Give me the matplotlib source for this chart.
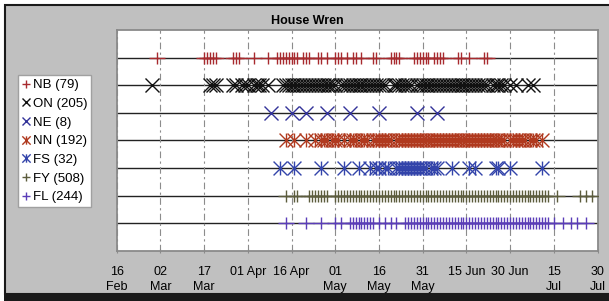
import matplotlib
matplotlib.use('Agg')
import matplotlib.pyplot as plt
from matplotlib.path import Path
from matplotlib.lines import Line2D
from matplotlib.patches import Rectangle

plt.rcParams['font.family'] = ['Liberation Sans', 'DejaVu Sans']

W, H = 609, 301

title = 'House Wren'
series_names = ['NB', 'ON', 'NE', 'NN', 'FS', 'FY', 'FL']
series_counts = [79, 205, 8, 192, 32, 508, 244]

# observation dates as days after 16 Feb (leap year)
nb_days = [14, 30, 31, 32, 33, 34, 40, 41, 42, 47, 52, 55, 56, 57, 58, 59, 60, 61, 62,
           64, 65, 66, 69, 70, 72, 75, 76, 77, 79, 81, 82, 84, 88, 89, 94, 95, 96, 97,
           102, 103, 104, 105, 106, 107, 109, 110, 111, 112, 117, 118, 121, 126, 127]
on_days = [12, 32, 33, 34, 40, 41, 43, 44, 45, 47, 48, 49, 50, 52,
           57, 58, 59, 60, 61, 62, 63, 64, 65, 66, 67, 68, 69, 70, 71, 72, 73, 74, 75,
           77, 78, 79, 80, 81, 82, 83, 84, 85, 86, 87, 88, 89, 90, 91, 92,
           95, 96, 97, 98, 99, 100, 101,
           103, 104, 105, 106, 107, 108, 109, 110, 111, 112, 113, 114, 115, 116, 117,
           118, 119, 120, 121, 122, 123, 124, 125, 126, 127,
           129, 130, 131, 132, 133, 135, 137, 141, 143]
ne_days = [53, 60, 65, 72, 80, 90, 103, 110]
nn_days = [58, 61, 65, 68, 70, 71, 72, 74, 75, 76, 78, 80, 81, 82, 84, 85, 86,
           88, 89, 90, 91, 92, 93, 94, 96, 97, 98, 99, 100, 101, 102, 103, 104, 105,
           106, 107, 108, 109, 110, 111, 112, 113, 114, 115, 116, 117, 118, 119, 120,
           121, 122, 123, 124, 125, 126, 127, 128, 129, 130, 131, 132, 133,
           135, 136, 137, 138, 139, 140, 142, 143, 144, 146]
fs_days = [56, 61, 70, 78, 83, 87, 89, 90, 92, 93, 96, 97, 98, 99, 100, 101, 102, 103,
           104, 105, 106, 108, 109, 110, 115, 121, 123, 130, 131, 135, 146]
fy_days = [58, 61, 62, 66, 67, 68, 69, 70, 71, 72,
           75, 76, 77, 78, 79, 80, 81, 82, 83, 84, 85, 86, 87, 88, 89, 90, 91, 92, 93,
           94, 95, 96, 97, 98, 99, 100, 101, 102, 103, 104, 105, 106, 107, 108, 109,
           110, 111, 112, 113, 114, 115, 116, 117, 118, 119, 120, 121, 122, 123, 124,
           125, 126, 127, 128, 129, 130, 131, 132, 133, 134, 135, 136, 137, 138, 139,
           140, 141, 142, 143, 144, 145, 146, 147, 148, 151, 159, 161, 163]
fl_days = [58, 65, 70, 75, 77, 80, 81, 82, 83, 84, 85, 86, 87, 88, 90, 92, 94, 96,
           99, 100, 101, 102, 103, 104, 105, 106, 107, 108, 109, 110, 111, 112, 113,
           114, 115, 116, 117, 118, 119, 120, 121, 122, 123, 124, 125, 126, 127, 128,
           129, 130, 131, 132, 133, 134, 135, 136, 137, 138, 139, 140, 141, 142, 143,
           144, 145, 146, 147, 148, 150, 153, 156, 158, 161]

tick_days = [0, 15, 30, 45, 60, 75, 90, 105, 120, 135, 150, 165]
tick_labels = ['16\nFeb', '02\nMar', '17\nMar', '01 Apr', '16 Apr', '01\nMay', '16\nMay',
               '31\nMay', '15 Jun', '30 Jun', '15\nJul', '30\nJul']

star = Path([(-1, -1), (1, 1), (-1, 1), (1, -1), (0, -1), (0, 1)],
            [Path.MOVETO, Path.LINETO, Path.MOVETO, Path.LINETO, Path.MOVETO, Path.LINETO])
wide_plus = Path([(-1.2, 0), (1.2, 0), (0, -1), (0, 1)],
                 [Path.MOVETO, Path.LINETO, Path.MOVETO, Path.LINETO])

series_days = [nb_days, on_days, ne_days, nn_days, fs_days, fy_days, fl_days]
colors = ['#a82a2e', '#111111', '#333399', '#b03a1f', '#3344aa', '#5c5c3d', '#5a3db8']
markers = [wide_plus, 'x', 'x', star, star, wide_plus, wide_plus]
sizes = [11, 10, 10.5, 10, 10, 11, 11]
legend_markers = ['+', 'x', 'x', star, star, '+', '+']

fig = plt.figure(figsize=(W / 100, H / 100), dpi=100, facecolor='white')
# gray chart area with dark frame
fig.patches.append(Rectangle((5 / W, 7 / H), 1.0, (H - 12) / H, transform=fig.transFigure,
                             facecolor='#c0c0c0', edgecolor='#1a1a1a', linewidth=1.5,
                             zorder=-10))
fig.patches.append(Rectangle((4 / W, 0), 1.0, 6 / H, transform=fig.transFigure,
                             facecolor='#1a1a1a', edgecolor='none', zorder=-10))

left, right, top, bottom = 116.7, 597.5, 30.0, 250.7
ax = fig.add_axes([left / W, 1 - bottom / H, (right - left) / W, (bottom - top) / H])
ax.set_zorder(1)
ax.set_facecolor('white')
ax.set_xlim(0, 165)
ax.set_ylim(0, 8)
ax.set_yticks([])
for s in ax.spines.values():
    s.set_color('#8a8a8a')
    s.set_linewidth(1.3)

ax.set_xticks(tick_days, tick_labels)
ax.tick_params(axis='x', length=3, direction='inout', color='#8a8a8a', pad=9.5, labelsize=9)
for t in ax.get_xticklabels():
    t.set_linespacing(1.35)
ax.grid(axis='x', color='#8c8c8c', linestyle=(0, (6, 3, 2, 3)), linewidth=0.8, zorder=0)

nrows = len(series_names)
for i, (days, c, m, ms) in enumerate(zip(series_days, colors, markers, sizes)):
    y = nrows - i
    ax.axhline(y, color='#222222', lw=1.0, zorder=1)
    ax.plot(days, [y] * len(days), linestyle='none', marker=m, ms=ms, mew=1.0,
            mec=c, mfc='none', zorder=3)

handles = [Line2D([], [], linestyle='none', marker=m, ms=6, mew=1.0, mec=c, mfc='none')
           for m, c in zip(legend_markers, colors)]
labels = [f'{n} ({k})' for n, k in zip(series_names, series_counts)]
leg = fig.legend(handles, labels, loc='upper left', bbox_to_anchor=(18 / W, 1 - 75 / H),
                 bbox_transform=fig.transFigure, frameon=True, fancybox=False,
                 edgecolor='#a0a0a0', facecolor='white', framealpha=1, fontsize=9.5,
                 handlelength=0.6, handletextpad=0.2, labelspacing=0.49, borderpad=0.3,
                 borderaxespad=0)
leg.get_frame().set_linewidth(1.0)
leg.set_zorder(2)

fig.text(307 / W, 1 - 21.5 / H, title, ha='center', va='center', fontsize=9,
         fontweight='bold')

fig.savefig('out.png', dpi=100)
